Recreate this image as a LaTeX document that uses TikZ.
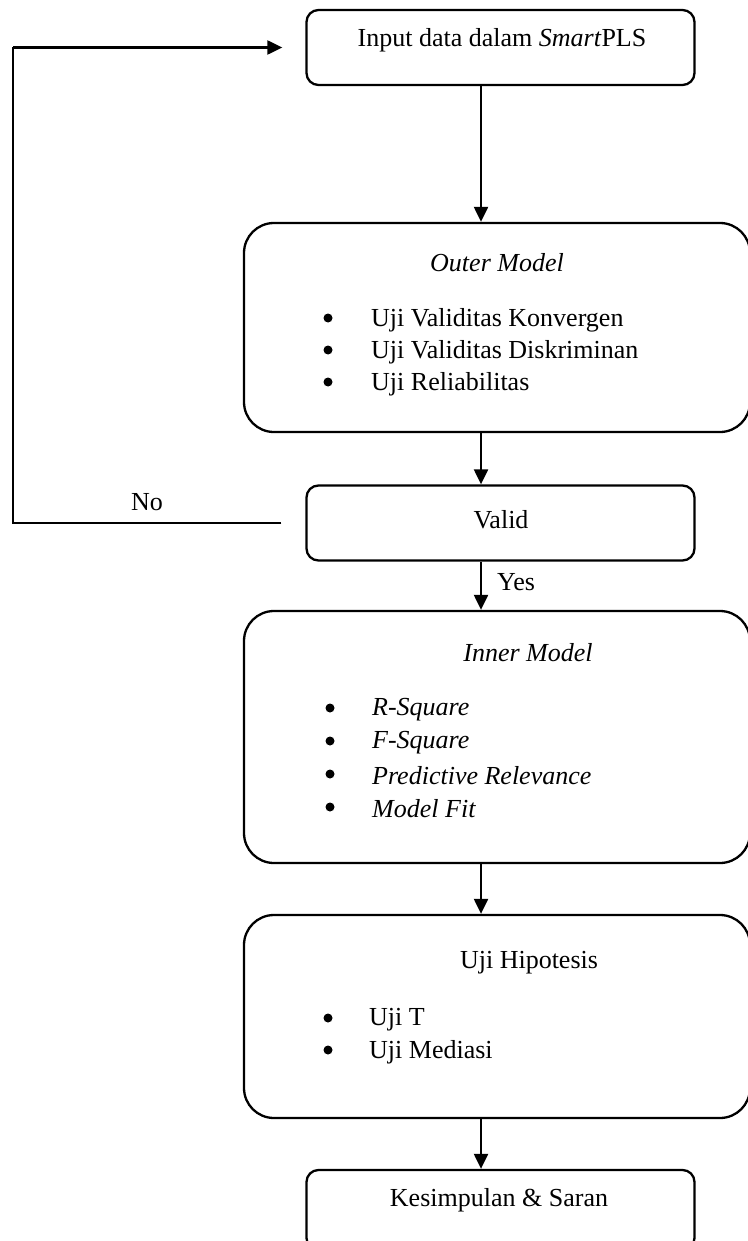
\documentclass[tikz,border=0pt]{standalone}
\usepackage{fontspec}
\setmainfont{Liberation Serif}
\usetikzlibrary{arrows.meta,calc}
\begin{document}
\begin{tikzpicture}[x=1pt,y=-1pt,
  every node/.style={font=\fontsize{26}{30}\selectfont, inner sep=0pt},
  smallbox/.style={draw, line width=2.3pt, rounded corners=12pt, minimum width=388pt, minimum height=75pt},
  bigbox/.style={draw, line width=2.3pt, rounded corners=30pt, minimum width=506pt},
  arr/.style={line width=2.2pt, -{Triangle[length=15pt,width=14pt]}},
  loopline/.style={line width=1.2pt},
  itemtext/.style={anchor=west},
  dot/.style={circle, fill=black, minimum size=9pt, inner sep=0pt, yshift=2pt},
]
\useasboundingbox (0,0) rectangle (747,1241);
\coordinate (ax) at (481,0);

% Input box
\node[smallbox] (input) at (500.5,47.5) {};
\node (inputtxt) at (502,40) {Input data dalam \textit{Smart}PLS};

% Outer model
\node[bigbox, minimum height=209pt] (outer) at (497,327.5) {};
\node (outert) at (497,263) {\textit{Outer Model}};
\node[dot] (ob1) at (328,320) {};
\node[itemtext] (o1) at (371,320) {Uji Validitas Konvergen};
\node[dot] (ob2) at (328,352) {};
\node[itemtext] (o2) at (371,352) {Uji Validitas Diskriminan};
\node[dot] (ob3) at (328,384) {};
\node[itemtext] (o3) at (371,384) {Uji Reliabilitas};

% Valid
\node[smallbox] (valid) at (500.5,523) {};
\node (validtxt) at (501,520) {Valid};

% Inner model
\node[bigbox, minimum height=252pt] (inner) at (497,737) {};
\node (innert) at (528,653) {\textit{Inner Model}};
\node[dot] (ib1) at (330,710) {};
\node[itemtext] (i1) at (372,710) {\textit{R-Square}};
\node[dot] (ib2) at (330,743) {};
\node[itemtext] (i2) at (372,743) {\textit{F-Square}};
\node[dot] (ib3) at (330,776) {};
\node[itemtext] (i3) at (372,776) {\textit{Predictive Relevance}};
\node[dot] (ib4) at (330,809) {};
\node[itemtext] (i4) at (372,809) {\textit{Model Fit}};

% Uji Hipotesis
\node[bigbox, minimum height=203pt] (hip) at (497,1016.5) {};
\node (hipt) at (529,963) {Uji Hipotesis};
\node[dot] (hb1) at (328,1020) {};
\node[itemtext] (h1) at (369,1020) {Uji T};
\node[dot] (hb2) at (328,1052) {};
\node[itemtext] (h2) at (369,1052) {Uji Mediasi};

% Kesimpulan
\node[smallbox, minimum height=80pt] (kes) at (500.5,1210) {};
\node (kestxt) at (499,1200) {Kesimpulan \& Saran};

% Connectors
\draw[arr] (input.south -| ax) -- (outer.north -| ax);
\draw[arr] (outer.south -| ax) -- (valid.north -| ax);
\draw[arr] (valid.south -| ax) -- node[pos=0.42, anchor=west, xshift=15pt] (yes) {Yes} (inner.north -| ax);
\draw[arr] (inner.south -| ax) -- (hip.north -| ax);
\draw[arr] (hip.south -| ax) -- (kes.north -| ax);

% No loop
\coordinate (noend) at ($(valid.west)+(-24,0)$);
\coordinate (loopx) at (13,0);
\coordinate (arrend) at ($(input.west)+(-23,0)$);
\draw[loopline] (noend) -- (noend -| loopx) -- (arrend -| loopx);
\draw[arr] (arrend -| loopx) -- (arrend);
\node (no) at (147,502) {No};
\end{tikzpicture}
\end{document}
